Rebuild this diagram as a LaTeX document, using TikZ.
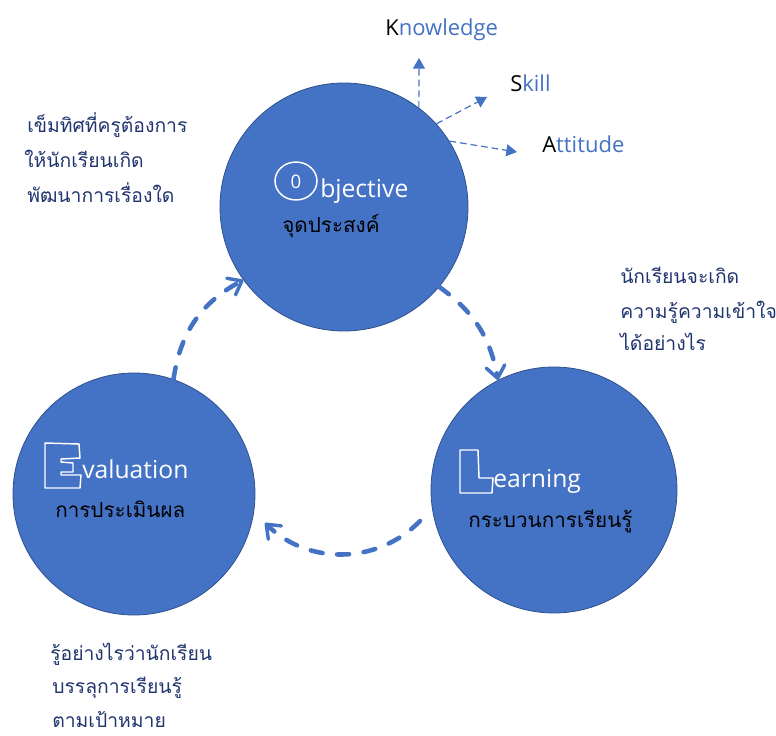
\documentclass[tikz,border=0pt]{standalone}
\usepackage{fontspec}
\setmainfont{Open Sans}
\newfontfamily\thaifont[Script=Thai]{Loma}
\usetikzlibrary{arrows.meta}
\definecolor{cblue}{HTML}{4472C4}
\definecolor{cedge}{HTML}{2F528F}
\definecolor{cnavy}{RGB}{32,52,110}
\tikzset{
  bigcircle/.style={circle,fill=cblue,draw=cedge,line width=0.6pt,minimum size=#1*0.75pt,inner sep=0pt},
  cyclearrow/.style={draw=cblue,line width=3.4pt,line cap=round,dash pattern=on 9pt off 11pt,
     -{Straight Barb[length=9pt,width=14pt,line width=2.6pt,round]}},
  kasarrow/.style={draw=cblue,line width=0.9pt,dash pattern=on 5pt off 3pt,
     -{Triangle[length=8pt,width=9pt]}},
  biglabel/.style={anchor=base west,inner sep=0pt,text=white,font=\fontsize{18.5}{20}\selectfont},
  smalllabel/.style={anchor=base west,inner sep=0pt,text=cblue,font=\fontsize{16.5}{18}\selectfont},
  thailabel/.style={anchor=base west,inner sep=0pt,text=black,font=\thaifont\fontsize{15.5}{17}\selectfont},
  notetext/.style={anchor=base west,inner sep=0pt,text=cnavy,font=\thaifont\fontsize{14.5}{16}\selectfont},
  outline/.style={draw=white,line width=1.1pt,line join=round}
}
\begin{document}
\begin{tikzpicture}[x=0.75pt,y=-0.75pt]
\useasboundingbox (0,0) rectangle (776,736);
% circles
\node[bigcircle=248] (obj) at (344,207) {};
\node[bigcircle=242] (eval) at (134,494) {};
\node[bigcircle=246] (learn) at (554,490) {};
% Objective
\draw[outline] (296,181) ellipse [x radius=21,y radius=19];
\node[inner sep=0pt,text=white,font=\fontsize{14}{15}\selectfont] (ocirc) at (296,182) {0};
\node[biglabel] (objt) at (320,197) {bjective};
\node[thailabel] (objth) at (282,232) {จุดประสงค์};
% Evaluation
\draw[outline] (45,443) -- (79,444) -- (80,458) -- (61,459) -- (61,462) -- (73,463) -- (73,472) -- (61,472) -- (61,475) -- (81,475) -- (80,488) -- (45,488) -- cycle;
\node[biglabel] (evalt) at (82,478) {valuation};
\node[thailabel] (evalth) at (55,517) {การประเมินผล};
% Learning
\draw[outline] (460,450) -- (478,450) -- (479,478) -- (493,478) -- (492,493) -- (460,493) -- cycle;
\node[biglabel] (learnt) at (493,487) {earning};
\node[thailabel] (learnth) at (468,527) {กระบวนการเรียนรู้};
% KSA labels
\node[smalllabel] (know) at (385,35) {{\color{black}K}nowledge};
\node[smalllabel] (skill) at (510,91) {{\color{black}S}kill};
\node[smalllabel] (att) at (542,152) {{\color{black}A}ttitude};
\coordinate (kend) at (419,58);
\coordinate (send) at (487,97);
\coordinate (aend) at (517,152);
\draw[kasarrow] (obj.53) -- (kend);
\draw[kasarrow] (obj.42) -- (send);
\draw[kasarrow] (obj.32) -- (aend);
% cycle arrows
\coordinate (a2s) at (420,521);
\coordinate (a2e) at (265,523);
\draw[cyclearrow] (obj.-40) to[bend left=22] (learn.117);
\draw[cyclearrow] (a2s) to[bend left=45] (a2e);
\draw[cyclearrow] (eval.71) to[bend left=27] (obj.216);
% notes
\node[notetext] (n1a) at (27,132) {เข็มทิศที่ครูต้องการ};
\node[notetext] (n1b) at (24,167) {ให้นักเรียนเกิด};
\node[notetext] (n1c) at (27,202) {พัฒนาการเรื่องใด};
\node[notetext] (n2a) at (620,283) {นักเรียนจะเกิด};
\node[notetext] (n2b) at (620,318) {ความรู้ความเข้าใจ};
\node[notetext] (n2c) at (620,350) {ได้อย่างไร};
\node[notetext] (n3a) at (50,660) {รู้อย่างไรว่านักเรียน};
\node[notetext] (n3b) at (52,693) {บรรลุการเรียนรู้};
\node[notetext] (n3c) at (52,727) {ตามเป้าหมาย};
\end{tikzpicture}
\end{document}
